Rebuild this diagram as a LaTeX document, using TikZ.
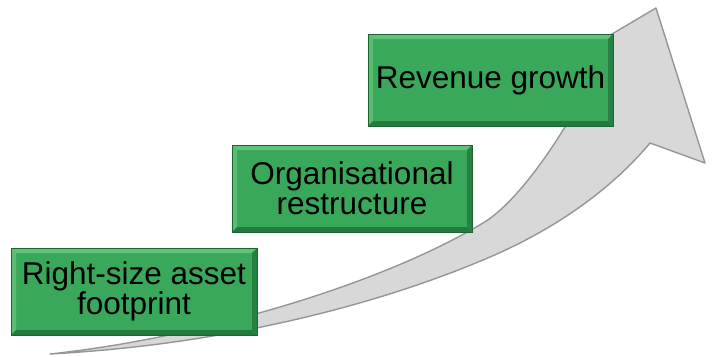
\documentclass[tikz,border=0pt]{standalone}
\usepackage{fontspec}
\setmainfont{Liberation Sans}
\definecolor{boxgreen}{RGB}{58,168,90}
\definecolor{bevlight}{RGB}{96,196,120}
\definecolor{bevdark}{RGB}{36,122,62}
\definecolor{boxedge}{RGB}{30,100,50}
\definecolor{arrowfill}{RGB}{216,216,216}
\definecolor{arrowedge}{RGB}{150,150,150}
\begin{document}
\begin{tikzpicture}[x=1pt,y=-1pt,
  stepbox/.style={draw=boxedge, line width=0.8pt, fill=boxgreen, align=center,
    inner sep=0pt, font=\fontsize{31.5}{30}\selectfont,
    path picture={
      \fill[bevlight] (path picture bounding box.north west) -- (path picture bounding box.north east)
        -- ([xshift=-5pt,yshift=-5pt]path picture bounding box.north east)
        -- ([xshift=5pt,yshift=-5pt]path picture bounding box.north west) -- cycle;
      \fill[bevlight!80!boxgreen] (path picture bounding box.north west) -- (path picture bounding box.south west)
        -- ([xshift=5pt,yshift=5pt]path picture bounding box.south west)
        -- ([xshift=5pt,yshift=-5pt]path picture bounding box.north west) -- cycle;
      \fill[bevdark] (path picture bounding box.south west) -- (path picture bounding box.south east)
        -- ([xshift=-5pt,yshift=5pt]path picture bounding box.south east)
        -- ([xshift=5pt,yshift=5pt]path picture bounding box.south west) -- cycle;
      \fill[bevdark!85!boxgreen] (path picture bounding box.north east) -- (path picture bounding box.south east)
        -- ([xshift=-5pt,yshift=5pt]path picture bounding box.south east)
        -- ([xshift=-5pt,yshift=-5pt]path picture bounding box.north east) -- cycle;
    }},
  bigarrow/.style={fill=arrowfill, draw=arrowedge, line width=1.4pt, line join=round}
]
\useasboundingbox (0,0) rectangle (714,356);

% arrow
\coordinate (tail) at (50,354);
\coordinate (notch) at (650,143);
\coordinate (tip) at (656,8);
\draw[bigarrow] (tail) .. controls (200,338) and (380,285) .. (483,223)
  .. controls (525,198) and (580,110) .. (605,50)
  -- (612,34) -- (tip) -- (705,163) -- (notch)
  .. controls (615,185) and (560,228) .. (483,260)
  .. controls (400,295) and (250,343) .. (tail) -- cycle;
\draw[white, line width=2pt, opacity=0.6, line cap=round] (540,160) .. controls (555,140) and (570,112) .. (585,80);

% boxes
\node[stepbox, minimum width=246pt, minimum height=87pt] (b1) at (134,291.5) {Right-size asset\\footprint};
\node[stepbox, minimum width=240pt, minimum height=87pt] (b2) at (352,188.5) {Organisational\\restructure};
\node[stepbox, minimum width=245pt, minimum height=92pt] (b3) at (490.5,80) {Revenue growth};
\end{tikzpicture}
\end{document}
